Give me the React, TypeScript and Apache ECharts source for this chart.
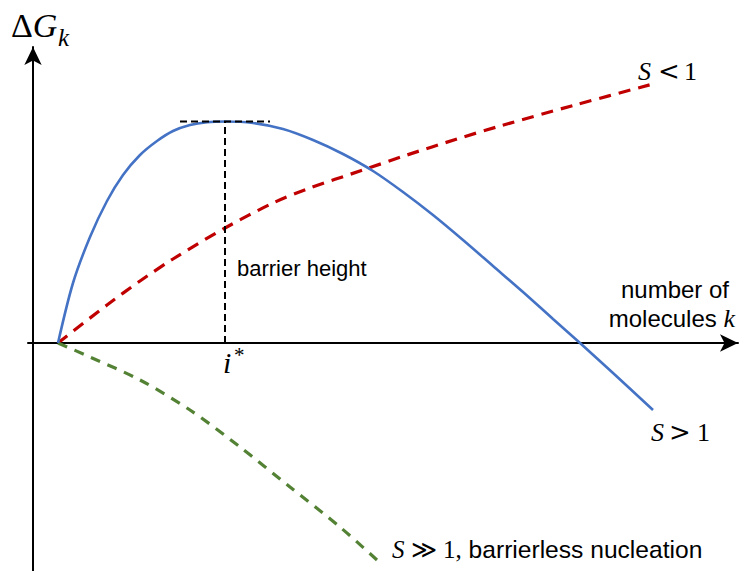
import React, { useEffect, useRef } from "react";
import * as echarts from "echarts";

// Curves (x: number of molecules k, y: ΔG_k), arbitrary units
const blueS_gt1: [number, number][] = [
  [2.5, 0], [4.0, 6.0], [5.7, 10.6], [7.4, 14.2], [9.0, 16.8], [10.7, 18.8],
  [12.4, 20.2], [14.0, 21.2], [15.7, 21.8], [17.4, 22.08], [19.2, 22.15],
  [22.0, 22.0], [25.0, 21.4], [28.0, 20.3], [31.0, 18.9], [34.0, 17.2],
  [37.0, 15.1], [40.0, 12.8], [43.0, 10.3], [46.0, 7.7], [49.0, 5.1],
  [52.0, 2.4], [54.7, 0], [58.0, -3.0], [62.0, -6.7],
];
const redS_lt1: [number, number][] = [
  [2.5, 0], [7.4, 3.8], [10.7, 6.2], [14.0, 8.4], [19.2, 11.5], [24.0, 14.0],
  [27.4, 15.4], [33.0, 17.3], [37.4, 18.8], [42.4, 20.4], [46.7, 21.7],
  [54.2, 23.8], [62.0, 25.9],
];
const greenS_gg1: [number, number][] = [
  [2.5, 0], [5.7, -1.4], [10.7, -3.7], [15.7, -6.7], [20.7, -10.4],
  [25.7, -14.4], [30.7, -18.4], [34.4, -21.7],
];
const iStar = 19.2;
const barrierTop = 22.15;
const barrierHalfWidth = 4.5;

const X_MIN = -0.5;
const X_MAX = 70.5;
const Y_MIN = -22.8;
const Y_MAX = 29.6;

export default function App() {
  const ref = useRef<HTMLDivElement>(null);
  useEffect(() => {
    if (!ref.current) return;
    const chart = echarts.init(ref.current, null, { renderer: "svg" });
    const serif = "Liberation Serif";
    const sans = "Liberation Sans";
    const t = (x: number, y: number, text: string, extra: any = {}) => ({
      type: "text",
      x,
      y,
      style: {
        text,
        fontFamily: serif,
        fontSize: 25,
        fill: "#000",
        verticalAlign: "middle",
        ...extra,
      },
    });
    chart.setOption({
      animation: false,
      backgroundColor: "#ffffff",
      grid: { left: 28, right: 2, top: 47, bottom: 0 },
      xAxis: {
        type: "value",
        min: X_MIN,
        max: X_MAX,
        axisLine: {
          show: true,
          onZero: true,
          symbol: ["none", "arrow"],
          symbolSize: [13, 18],
          lineStyle: { color: "#000", width: 2 },
        },
        axisTick: { show: false },
        axisLabel: { show: false },
        splitLine: { show: false },
      },
      yAxis: {
        type: "value",
        min: Y_MIN,
        max: Y_MAX,
        axisLine: {
          show: true,
          onZero: true,
          symbol: ["none", "arrow"],
          symbolSize: [13, 18],
          lineStyle: { color: "#000", width: 2 },
        },
        axisTick: { show: false },
        axisLabel: { show: false },
        splitLine: { show: false },
      },
      series: [
        {
          type: "line",
          data: redS_lt1,
          smooth: 0.3,
          symbol: "none",
          lineStyle: { color: "#C00000", width: 3.2, type: [12, 8] },
          z: 3,
        },
        {
          type: "line",
          data: greenS_gg1,
          smooth: 0.3,
          symbol: "none",
          lineStyle: { color: "#548235", width: 3.2, type: [10, 8] },
          z: 3,
        },
        {
          type: "line",
          data: blueS_gt1,
          smooth: 0.3,
          symbol: "none",
          lineStyle: { color: "#4472C4", width: 2.6 },
          z: 4,
        },
        {
          type: "line",
          data: [[iStar, 0], [iStar, barrierTop]],
          symbol: "none",
          lineStyle: { color: "#000", width: 2, type: [7, 4] },
          z: 5,
        },
        {
          type: "line",
          data: [[iStar - barrierHalfWidth, barrierTop], [iStar + barrierHalfWidth, barrierTop]],
          symbol: "none",
          lineStyle: { color: "#000", width: 2, type: [7, 4] },
          z: 5,
        },
      ],
      graphic: [
        {
          type: "text",
          x: 11,
          y: 25,
          style: {
            text: "{a|Δ}{b|G}",
            verticalAlign: "middle",
            rich: {
              a: { fontFamily: serif, fontSize: 34, fill: "#000" },
              b: { fontFamily: serif, fontSize: 34, fontStyle: "italic", fill: "#000" },
            },
          },
        },
        t(58, 37, "k", { fontStyle: "italic" }),
        // S < 1
        t(638, 71, "S", { fontStyle: "italic", fontSize: 26 }),
        t(658, 71, "<", { fontSize: 26, fontFamily: "DejaVu Serif" }),
        t(684, 71, "1", { fontSize: 26 }),
        // axis title
        {
          type: "text",
          x: 729,
          y: 289,
          style: { text: "number of", fontFamily: sans, fontSize: 24, fill: "#000", align: "right", verticalAlign: "middle" },
        },
        {
          type: "text",
          x: 735,
          y: 318,
          style: {
            text: "{a|molecules }{k|k}",
            align: "right",
            verticalAlign: "middle",
            rich: {
              a: { fontFamily: sans, fontSize: 24, fill: "#000" },
              k: { fontFamily: serif, fontSize: 26, fontStyle: "italic", fill: "#000" },
            },
          },
        },
        {
          type: "text",
          x: 237,
          y: 268,
          style: { text: "barrier height", fontFamily: sans, fontSize: 22, fill: "#000", verticalAlign: "middle" },
        },
        t(223, 362, "i", { fontStyle: "italic", fontSize: 30 }),
        t(234, 355, "*", { fontSize: 21 }),
        // S > 1
        t(651, 432, "S", { fontStyle: "italic", fontSize: 26 }),
        t(669, 432, ">", { fontSize: 26, fontFamily: "DejaVu Serif" }),
        t(697, 432, "1", { fontSize: 26 }),
        {
          type: "text",
          x: 392,
          y: 549,
          style: {
            text: "{s|S}{t| ≫ 1,}{u| barrierless nucleation}",
            verticalAlign: "middle",
            rich: {
              s: { fontFamily: serif, fontSize: 25, fontStyle: "italic", fill: "#000" },
              t: { fontFamily: serif, fontSize: 25, fill: "#000" },
              u: { fontFamily: sans, fontSize: 24.6, fill: "#000" },
            },
          },
        },
      ],
    });
    return () => chart.dispose();
  }, []);
  return (
    <div
      ref={ref}
      style={{ position: "absolute", left: 0, top: 0, width: 740, height: 571 }}
    />
  );
}
